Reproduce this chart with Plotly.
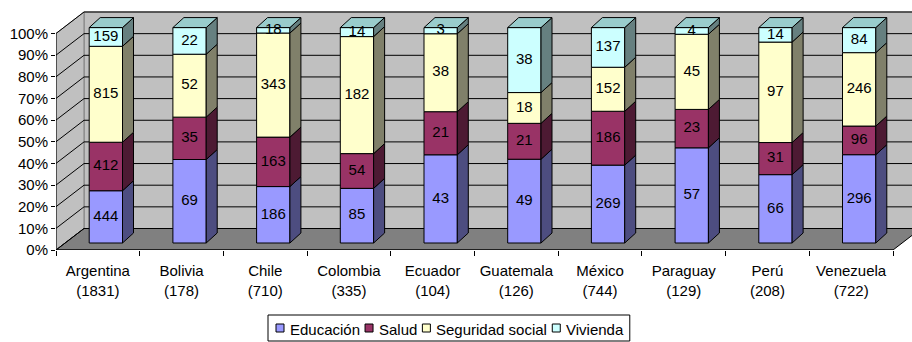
import numpy as np
import plotly.graph_objects as go

# ---- data -------------------------------------------------------------
COUNTRIES = ["Argentina", "Bolivia", "Chile", "Colombia", "Ecuador",
             "Guatemala", "México", "Paraguay", "Perú", "Venezuela"]
TOTALS = [1831, 178, 710, 335, 104, 126, 744, 129, 208, 722]
SERIES = ["Educación", "Salud", "Seguridad social", "Vivienda"]
EDUCACION = [444, 69, 186, 85, 43, 49, 269, 57, 66, 296]
SALUD = [412, 35, 163, 54, 21, 21, 186, 23, 31, 96]
SEGURIDAD = [815, 52, 343, 182, 38, 18, 152, 45, 97, 246]
VIVIENDA = [159, 22, 18, 14, 3, 38, 137, 4, 14, 84]
Y_TICKS = [0, 10, 20, 30, 40, 50, 60, 70, 80, 90, 100]

# ---- styling ----------------------------------------------------------
FRONT = ["#9999FF", "#993366", "#FFFFCC", "#CCFFFF"]
SIDE = ["#4D4D80", "#4D1A33", "#80806A", "#668080"]
TOP = "#99CCCC"
FONT = "Liberation Sans, Arial, sans-serif"
FS = 15

W, H = 912, 342
ML, MB = 56, 92
PW, PH = W - ML, H - MB     # plot area in pixels

# pseudo-3D geometry, expressed in axis units
X_MAX = 10.227          # category units visible in the plot area
Y_MAX = 115.47          # percent units visible in the plot area
DEPTH_X, DEPTH_Y = 0.3345, 9.93      # floor / wall depth
SHIFT_X, SHIFT_Y = 0.0956, 3.23      # bar front face offset inside floor
BAR_W = 0.398
BAR_DX, BAR_DY = 0.1314, 4.62        # bar depth
BAR_SCALE = 0.995

values = np.array([EDUCACION, SALUD, SEGURIDAD, VIVIENDA], dtype=float)
pct = values / values.sum(axis=0) * 100.0
cum = np.vstack([np.zeros(len(COUNTRIES)), np.cumsum(pct, axis=0)])
n = len(COUNTRIES)
centers = np.arange(n) + 0.5
bar_x = centers + SHIFT_X

fig = go.Figure()

# ---- walls, floor and gridlines ---------------------------------------
shapes = []
wall_line = dict(color="#808080", width=1)
black = dict(color="#000000", width=1)
shapes.append(dict(type="path", layer="below", xref="x", yref="y",
                   path=f"M{DEPTH_X},{DEPTH_Y} L{n + DEPTH_X},{DEPTH_Y} "
                        f"L{n + DEPTH_X},{100 + DEPTH_Y} L{DEPTH_X},{100 + DEPTH_Y} Z",
                   fillcolor="#C0C0C0", line=wall_line))
shapes.append(dict(type="path", layer="below", xref="x", yref="y",
                   path=f"M0,0 L0,100 L{DEPTH_X},{100 + DEPTH_Y} L{DEPTH_X},{DEPTH_Y} Z",
                   fillcolor="#C0C0C0", line=wall_line))
shapes.append(dict(type="path", layer="below", xref="x", yref="y",
                   path=f"M0,0 L{n},0 L{n + DEPTH_X},{DEPTH_Y} L{DEPTH_X},{DEPTH_Y} Z",
                   fillcolor="#808080", line=black))
for t in Y_TICKS:
    shapes.append(dict(type="line", layer="below", xref="x", yref="y",
                       x0=0, y0=t, x1=DEPTH_X, y1=t + DEPTH_Y, line=black))
    shapes.append(dict(type="line", layer="below", xref="x", yref="y",
                       x0=DEPTH_X, y0=t + DEPTH_Y, x1=n + DEPTH_X, y1=t + DEPTH_Y,
                       line=black))
# front edges: value axis and category axis
shapes.append(dict(type="line", layer="below", xref="x", yref="y",
                   x0=0, y0=0, x1=0, y1=100, line=black))
shapes.append(dict(type="line", layer="below", xref="x", yref="y",
                   x0=0, y0=0, x1=n, y1=0, line=black))

# ---- bars: front faces -------------------------------------------------
for k, name in enumerate(SERIES):
    fig.add_trace(go.Bar(
        x=bar_x, y=pct[k] * BAR_SCALE, base=SHIFT_Y + cum[k] * BAR_SCALE,
        width=BAR_W, name=name, showlegend=False,
        marker=dict(color=FRONT[k], line=black),
        hoverinfo="skip"))

# ---- bars: side faces and top faces ------------------------------------
xr = bar_x + BAR_W / 2
xl = bar_x - BAR_W / 2
for k in range(len(SERIES)):
    px, py = [], []
    for i in range(n):
        y0 = SHIFT_Y + cum[k][i] * BAR_SCALE
        y1 = SHIFT_Y + cum[k + 1][i] * BAR_SCALE
        px += [xr[i], xr[i] + BAR_DX, xr[i] + BAR_DX, xr[i], xr[i], None]
        py += [y0, y0 + BAR_DY, y1 + BAR_DY, y1, y0, None]
    fig.add_trace(go.Scatter(x=px, y=py, mode="lines", fill="toself",
                             fillcolor=SIDE[k], line=black,
                             showlegend=False, hoverinfo="skip"))

px, py = [], []
for i in range(n):
    yt = SHIFT_Y + cum[-1][i] * BAR_SCALE
    px += [xl[i], xl[i] + BAR_DX, xr[i] + BAR_DX, xr[i], xl[i], None]
    py += [yt, yt + BAR_DY, yt + BAR_DY, yt, yt, None]
fig.add_trace(go.Scatter(x=px, y=py, mode="lines", fill="toself",
                         fillcolor=TOP, line=black,
                         showlegend=False, hoverinfo="skip"))

# ---- value labels ------------------------------------------------------
for k in range(len(SERIES)):
    mid = SHIFT_Y + (cum[k] + pct[k] / 2) * BAR_SCALE
    fig.add_trace(go.Scatter(x=bar_x, y=mid, mode="text",
                             text=[str(int(v)) for v in values[k]],
                             textposition="middle center",
                             textfont=dict(family=FONT, size=FS, color="#000000"),
                             showlegend=False, hoverinfo="skip"))

# ---- compact boxed legend along the bottom -----------------------------
ADV = {"E": .667, "d": .556, "u": .556, "c": .5, "a": .556, "i": .222,
       "ó": .556, "n": .556, "S": .667, "l": .222, "e": .556, "g": .556,
       "r": .333, " ": .278, "s": .5, "o": .556, "V": .667, "v": .5}


def text_width(s):
    return sum(ADV.get(ch, .556) for ch in s) * FS


def to_px_x(p):
    return (p - ML) / PW


def to_px_y(p):
    return (PH - p) / PH


LEG_LEFT, LEG_TOP, LEG_BOTTOM = 268, 315, 341
SQ, PAD, TXT_GAP, ITEM_GAP = 8, 8, 4, 7
leg_mid = (LEG_TOP + LEG_BOTTOM) / 2
annotations = []
cursor = LEG_LEFT + PAD
for k, name in enumerate(SERIES):
    shapes.append(dict(type="rect", xref="paper", yref="paper",
                       x0=to_px_x(cursor), x1=to_px_x(cursor + SQ),
                       y0=to_px_y(leg_mid + SQ / 2), y1=to_px_y(leg_mid - SQ / 2),
                       fillcolor=FRONT[k], line=black))
    cursor += SQ + TXT_GAP
    annotations.append(dict(xref="paper", yref="paper", x=to_px_x(cursor),
                            y=to_px_y(leg_mid + 1), xanchor="left", yanchor="middle",
                            text=name, showarrow=False,
                            font=dict(family=FONT, size=FS, color="#000000")))
    cursor += text_width(name) + ITEM_GAP
leg_right = cursor - ITEM_GAP + PAD
shapes.append(dict(type="rect", xref="paper", yref="paper",
                   x0=to_px_x(LEG_LEFT), x1=to_px_x(leg_right),
                   y0=to_px_y(LEG_BOTTOM), y1=to_px_y(LEG_TOP),
                   fillcolor="rgba(0,0,0,0)", line=black, layer="below"))

tick_text = [f"{c}<br>({t})" for c, t in zip(COUNTRIES, TOTALS)]

fig.update_layout(
    width=W, height=H, autosize=False,
    margin=dict(l=ML, r=0, t=0, b=MB, autoexpand=False),
    paper_bgcolor="#FFFFFF", plot_bgcolor="#FFFFFF",
    barmode="overlay", showlegend=False,
    font=dict(family=FONT, size=FS, color="#000000"),
    shapes=shapes, annotations=annotations,
    xaxis=dict(range=[0, X_MAX], tickvals=list(centers), ticktext=tick_text,
               ticks="outside", ticklen=7, tickcolor="rgba(0,0,0,0)",
               showgrid=False, zeroline=False, showline=False,
               tickfont=dict(family=FONT, size=FS, color="#000000")),
    xaxis2=dict(range=[0, X_MAX], overlaying="x", side="bottom",
                tickvals=list(range(n + 1)), ticks="outside", ticklen=5,
                tickcolor="#000000", showticklabels=False, showgrid=False,
                zeroline=False, showline=False),
    yaxis=dict(range=[0, Y_MAX], tickvals=Y_TICKS,
               ticktext=[f"{t}%" for t in Y_TICKS],
               ticks="outside", ticklen=4, tickcolor="#000000",
               showgrid=False, zeroline=False, showline=False,
               tickfont=dict(family=FONT, size=FS, color="#000000")),
)

# invisible trace so the tick-mark axis is drawn
fig.add_trace(go.Scatter(x=[0], y=[0], xaxis="x2", mode="markers",
                         marker=dict(opacity=0), showlegend=False, hoverinfo="skip"))

fig.write_html("out.html")
